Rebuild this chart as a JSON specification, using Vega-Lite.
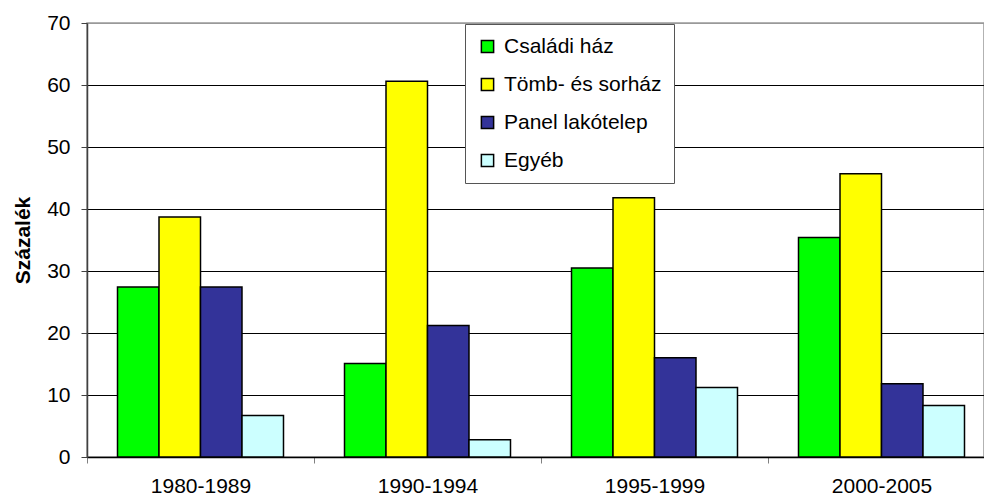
{
  "$schema": "https://vega.github.io/schema/vega-lite/v6.json",
  "width": 897,
  "height": 434,
  "autosize": {"type": "none"},
  "padding": {"left": 87, "top": 23, "right": 0, "bottom": 41},
  "background": "white",
  "config": {
    "font": "Liberation Sans",
    "view": {"stroke": "#999999", "strokeWidth": 1.5}
  },
  "data": {
    "values": [
      {"idoszak": "1980-1989", "tipus": "Családi ház", "ertek": 27.4},
      {"idoszak": "1980-1989", "tipus": "Tömb- és sorház", "ertek": 38.7},
      {"idoszak": "1980-1989", "tipus": "Panel lakótelep", "ertek": 27.4},
      {"idoszak": "1980-1989", "tipus": "Egyéb", "ertek": 6.7},
      {"idoszak": "1990-1994", "tipus": "Családi ház", "ertek": 15.1},
      {"idoszak": "1990-1994", "tipus": "Tömb- és sorház", "ertek": 60.6},
      {"idoszak": "1990-1994", "tipus": "Panel lakótelep", "ertek": 21.2},
      {"idoszak": "1990-1994", "tipus": "Egyéb", "ertek": 2.8},
      {"idoszak": "1995-1999", "tipus": "Családi ház", "ertek": 30.5},
      {"idoszak": "1995-1999", "tipus": "Tömb- és sorház", "ertek": 41.8},
      {"idoszak": "1995-1999", "tipus": "Panel lakótelep", "ertek": 16.0},
      {"idoszak": "1995-1999", "tipus": "Egyéb", "ertek": 11.2},
      {"idoszak": "2000-2005", "tipus": "Családi ház", "ertek": 35.4},
      {"idoszak": "2000-2005", "tipus": "Tömb- és sorház", "ertek": 45.7},
      {"idoszak": "2000-2005", "tipus": "Panel lakótelep", "ertek": 11.8},
      {"idoszak": "2000-2005", "tipus": "Egyéb", "ertek": 8.3}
    ]
  },
  "mark": {"type": "bar", "stroke": "black", "strokeWidth": 1.5},
  "encoding": {
    "x": {
      "field": "idoszak",
      "type": "nominal",
      "sort": null,
      "scale": {"range": [0, 908], "paddingInner": 0, "paddingOuter": 0},
      "axis": {
        "title": null,
        "labelAngle": 0,
        "labelFontSize": 21,
        "labelColor": "black",
        "labelPadding": 12,
        "tickBand": "extent",
        "tickSize": 6,
        "tickColor": "#808080",
        "domainColor": "black",
        "domainWidth": 1.5,
        "grid": false
      }
    },
    "xOffset": {
      "field": "tipus",
      "type": "nominal",
      "sort": ["Családi ház", "Tömb- és sorház", "Panel lakótelep", "Egyéb"],
      "scale": {"paddingInner": 0, "paddingOuter": 0.735}
    },
    "y": {
      "field": "ertek",
      "type": "quantitative",
      "scale": {"domain": [0, 70], "nice": false},
      "axis": {
        "title": "Százalék",
        "titleFontSize": 21,
        "titleFontWeight": "bold",
        "titleColor": "black",
        "titlePadding": 13,
        "values": [0, 10, 20, 30, 40, 50, 60, 70],
        "labelFontSize": 21,
        "labelColor": "black",
        "labelPadding": 11,
        "tickSize": 6,
        "tickColor": "#404040",
        "domainColor": "#404040",
        "domainWidth": 1.5,
        "grid": true,
        "gridColor": {"condition": {"test": "datum.value == 70", "value": "#999999"}, "value": "black"},
        "gridWidth": 1
      }
    },
    "color": {
      "field": "tipus",
      "type": "nominal",
      "sort": ["Családi ház", "Tömb- és sorház", "Panel lakótelep", "Egyéb"],
      "scale": {
        "domain": ["Családi ház", "Tömb- és sorház", "Panel lakótelep", "Egyéb"],
        "range": ["#00FF00", "#FFFF00", "#333399", "#CCFFFF"]
      },
      "legend": {
        "title": null,
        "orient": "none",
        "legendX": 378,
        "legendY": 1,
        "padding": 12,
        "fillColor": "white",
        "strokeColor": "#555555",
        "symbolType": "square",
        "symbolSize": 150,
        "symbolStrokeColor": "black",
        "symbolStrokeWidth": 1.5,
        "symbolOpacity": 1,
        "labelFontSize": 21,
        "labelColor": "black",
        "labelOffset": 6,
        "rowPadding": 16
      }
    }
  }
}
